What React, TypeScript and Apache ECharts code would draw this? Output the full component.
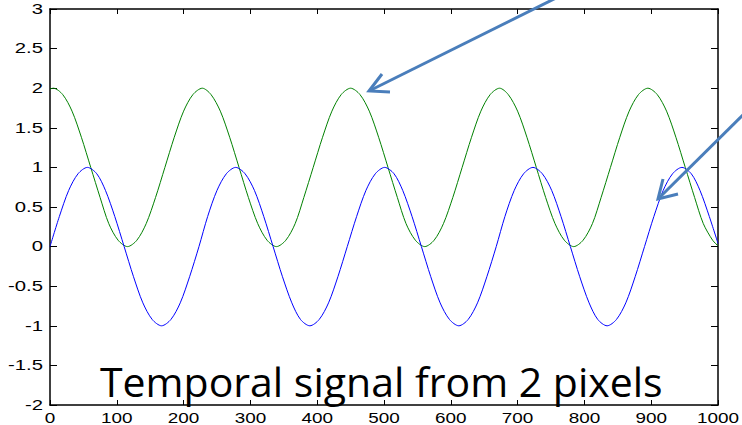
import React, { useEffect, useRef } from "react";
import * as echarts from "echarts";

// Blue signal: samples (x, value)
const blueX = [0, 14, 28, 42, 56, 70, 83, 97, 111, 125, 139, 153, 167, 181, 195, 209,
  223, 236, 250, 264, 278, 292, 306, 320, 334, 348, 362, 375, 389, 403, 417, 431,
  445, 459, 473, 487, 501, 515, 528, 542, 556, 570, 584, 598, 612, 626, 640, 654,
  668, 681, 695, 709, 723, 737, 751, 765, 779, 793, 807, 820, 834, 848, 862, 876,
  890, 904, 918, 932, 946, 960, 973, 987, 1000];
const blueY = [0, 0.38, 0.71, 0.92, 1, 0.92, 0.71, 0.38, 0, -0.38, -0.71, -0.92, -1, -0.92, -0.71, -0.38,
  0, 0.38, 0.71, 0.92, 1, 0.92, 0.71, 0.38, 0, -0.38, -0.71, -0.92, -1, -0.92, -0.71, -0.38,
  0, 0.38, 0.71, 0.92, 1, 0.92, 0.71, 0.38, 0, -0.38, -0.71, -0.92, -1, -0.92, -0.71, -0.38,
  0, 0.38, 0.71, 0.92, 1, 0.92, 0.71, 0.38, 0, -0.38, -0.71, -0.92, -1, -0.92, -0.71, -0.38,
  0, 0.38, 0.71, 0.92, 1, 0.92, 0.71, 0.38, 0.04];

// Green signal: samples (x, value)
const greenX = [0, 5, 19, 33, 47, 61, 75, 88, 102, 116, 130, 144, 158, 172, 186, 200, 214,
  228, 241, 255, 269, 283, 297, 311, 325, 339, 353, 367, 380, 394, 408, 422, 436,
  450, 464, 478, 492, 506, 520, 533, 547, 561, 575, 589, 603, 617, 631, 645, 659,
  673, 686, 700, 714, 728, 742, 756, 770, 784, 798, 812, 825, 839, 853, 867, 881,
  895, 909, 923, 937, 951, 965, 978, 992, 1000];
const greenY = [1.99, 2, 1.92, 1.71, 1.38, 1, 0.62, 0.29, 0.08, 0, 0.08, 0.29, 0.62, 1, 1.38, 1.71, 1.92,
  2, 1.92, 1.71, 1.38, 1, 0.62, 0.29, 0.08, 0, 0.08, 0.29, 0.62, 1, 1.38, 1.71, 1.92,
  2, 1.92, 1.71, 1.38, 1, 0.62, 0.29, 0.08, 0, 0.08, 0.29, 0.62, 1, 1.38, 1.71, 1.92,
  2, 1.92, 1.71, 1.38, 1, 0.62, 0.29, 0.08, 0, 0.08, 0.29, 0.62, 1, 1.38, 1.71, 1.92,
  2, 1.92, 1.71, 1.38, 1, 0.62, 0.29, 0.08, 0.01];

const xMin = 0;
const xMax = 1000;
const xStep = 100;
const yMin = -2;
const yMax = 3;
const yStep = 0.5;

const xTickValues = [0, 100, 200, 300, 400, 500, 600, 700, 800, 900, 1000];
const xTickLabels = ["0", "100", "200", "300", "400", "500", "600", "700", "800", "900", "1000"];
const yTickValues = [-2, -1.5, -1, -0.5, 0, 0.5, 1, 1.5, 2, 2.5, 3];
const yTickLabels = ["-2", "-1.5", "-1", "-0.5", "0", "0.5", "1", "1.5", "2", "2.5", "3"];

const caption = "Temporal signal from 2 pixels";

export default function App() {
  const ref = useRef<HTMLDivElement>(null);

  useEffect(() => {
    if (!ref.current) return;
    const chart = echarts.init(ref.current, null, { renderer: "svg" });
    const axisLine = { show: true, onZero: false, lineStyle: { color: "#000", width: 1.5 } };
    const xTick = { show: true, inside: true, length: 5, lineStyle: { color: "#000" } };
    const yTick = { show: true, inside: true, length: 7, lineStyle: { color: "#000" } };
    const arrowColor = "#4A7EBB";
    chart.setOption({
      animation: false,
      backgroundColor: "#fff",
      grid: { left: 50, right: 24, top: 9, bottom: 20, containLabel: false },
      xAxis: [
        {
          type: "value", min: xMin, max: xMax, interval: xStep, position: "bottom",
          axisLine, axisTick: xTick, axisLabel: { show: false }, splitLine: { show: false },
        },
        {
          type: "value", min: xMin, max: xMax, interval: xStep, position: "top",
          axisLine, axisTick: xTick, axisLabel: { show: false }, splitLine: { show: false },
        },
      ],
      yAxis: [
        {
          type: "value", min: yMin, max: yMax, interval: yStep, position: "left",
          axisLine, axisTick: yTick, axisLabel: { show: false }, splitLine: { show: false },
        },
        {
          type: "value", min: yMin, max: yMax, interval: yStep, position: "right",
          axisLine, axisTick: yTick, axisLabel: { show: false }, splitLine: { show: false },
        },
      ],
      series: [
        {
          type: "line", xAxisIndex: 0, yAxisIndex: 0, showSymbol: false, smooth: 0.3,
          data: greenX.map((x, i) => [x, greenY[i]]),
          lineStyle: { color: "#008000", width: 1 }, itemStyle: { color: "#008000" },
        },
        {
          type: "line", xAxisIndex: 0, yAxisIndex: 0, showSymbol: false, smooth: 0.3,
          data: blueX.map((x, i) => [x, blueY[i]]),
          lineStyle: { color: "#0000FF", width: 1 }, itemStyle: { color: "#0000FF" },
        },
      ],
    });

    const labelFont = '14px "Liberation Sans", Arial, sans-serif';
    const graphics: any[] = [];
    xTickValues.forEach((v, i) => {
      const p = chart.convertToPixel({ xAxisIndex: 0, yAxisIndex: 0 }, [v, yMin]) as number[];
      graphics.push({
        type: "text", x: p[0], y: p[1] + 13, scaleX: 1.35, silent: true,
        style: { text: xTickLabels[i], font: labelFont, fill: "#000", textAlign: "center", textVerticalAlign: "middle" },
      });
    });
    yTickValues.forEach((v, i) => {
      const p = chart.convertToPixel({ xAxisIndex: 0, yAxisIndex: 0 }, [xMin, v]) as number[];
      graphics.push({
        type: "text", x: p[0] - 7, y: p[1], scaleX: 1.45, silent: true,
        style: { text: yTickLabels[i], font: labelFont, fill: "#000", textAlign: "right", textVerticalAlign: "middle" },
      });
    });
    graphics.push(
      {
        type: "text", left: 100, top: 360, z: 100,
        style: { text: caption, font: '41px "Open Sans"', fill: "#000" },
      },
      {
        type: "line", z: 101,
        shape: { x1: 556, y1: -2, x2: 371, y2: 90 },
        style: { stroke: arrowColor, lineWidth: 3 },
      },
      {
        type: "polyline", z: 101,
        shape: { points: [[382, 74], [369, 91], [390, 92]] },
        style: { stroke: arrowColor, lineWidth: 3, fill: "none" },
      },
      {
        type: "line", z: 101,
        shape: { x1: 745, y1: 113, x2: 660, y2: 197 },
        style: { stroke: arrowColor, lineWidth: 3 },
      },
      {
        type: "polyline", z: 101,
        shape: { points: [[663, 179], [658, 199], [678, 194]] },
        style: { stroke: arrowColor, lineWidth: 3, fill: "none" },
      }
    );
    chart.setOption({ graphic: graphics });
    return () => chart.dispose();
  }, []);

  return (
    <div
      ref={ref}
      style={{ position: "fixed", left: 0, top: 0, width: 742, height: 425, background: "#fff" }}
    />
  );
}
